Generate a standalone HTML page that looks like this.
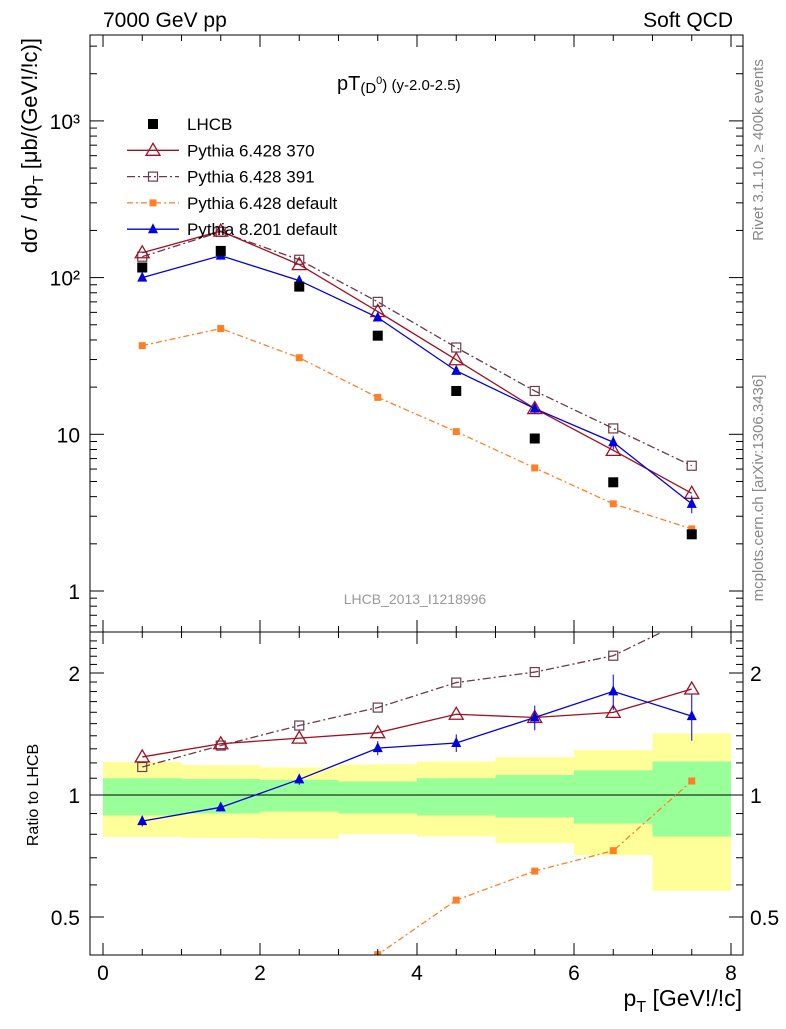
<!DOCTYPE html>
<html><head><meta charset="utf-8"><style>
body{margin:0;background:#fff;}
svg{font-family:"Liberation Sans",sans-serif;}
</style></head><body>
<svg id="c" width="786" height="1024" xmlns="http://www.w3.org/2000/svg"></svg>
<script>
const binCenters=[0.5,1.5,2.5,3.5,4.5,5.5,6.5,7.5];
const lhcb=[116,148,87.6,42.6,18.9,9.4,4.94,2.3];
const py370=[144,198,121,60.7,29.9,14.6,7.9,4.2];
const py391=[136,196,130,70,35.8,18.9,10.9,6.3];
const pydef=[36.8,47.3,30.8,17.2,10.4,6.1,3.6,2.49];
const py8=[100,138,95.7,55.6,25.4,14.6,8.9,3.6];
const py8err=[0.03,0.02,0.03,0.04,0.05,0.07,0.1,0.13];
const yelUp=[1.206,1.186,1.17,1.19,1.21,1.24,1.29,1.42];
const yelDn=[0.788,0.783,0.78,0.80,0.79,0.76,0.71,0.58];
const grnUp=[1.10,1.095,1.09,1.08,1.10,1.12,1.15,1.21];
const grnDn=[0.89,0.90,0.91,0.90,0.89,0.88,0.85,0.79];
const xTicks=[0,2,4,6,8];
const yTicksMain=[1,10,100,1000];
const yTickLabelsMain=["1","10","10²","10³"];
const ratioTicks=[0.5,1,2];

const S=document.getElementById('c'),NS="http://www.w3.org/2000/svg";
const X0=90,X1=743,MT=35,MB=632,RB=955;
const xs=v=>103+v*78.5;
const ym=v=>591-Math.log10(v)*156.7;
const yr=v=>795-Math.log2(v)*122;
function el(t,a,p){const e=document.createElementNS(NS,t);for(const k in a)e.setAttribute(k,a[k]);(p||S).appendChild(e);return e;}
function txt(s,a,p){const e=el('text',a,p);e.textContent=s;return e;}
const defs=el('defs',{});
const c1=el('clipPath',{id:'cm'},defs);el('rect',{x:X0,y:MT,width:X1-X0,height:MB-MT},c1);
const c2=el('clipPath',{id:'cr'},defs);el('rect',{x:X0,y:MB,width:X1-X0,height:RB-MB},c2);
const gm=el('g',{'clip-path':'url(#cm)'});
const gr=el('g',{'clip-path':'url(#cr)'});
for(let i=0;i<8;i++){
 const a=xs(i),b=xs(i+1);
 const r=el('rect',{x:a,y:yr(yelUp[i]),width:b-a,height:yr(yelDn[i])-yr(yelUp[i]),fill:'#ffff99'},gr);
 
 const g=el('rect',{x:a,y:yr(grnUp[i]),width:b-a,height:yr(grnDn[i])-yr(grnUp[i]),fill:'#99ff99'},gr);
 
}
el('line',{x1:X0,x2:X1,y1:yr(1),y2:yr(1),stroke:'#000','stroke-width':1},gr);
function marker(type,x,y,col,p){
 let m;
 if(type=='sq')m=el('rect',{x:x-5,y:y-5,width:10,height:10,fill:col},p);
 else if(type=='osq')m=el('rect',{x:x-4.5,y:y-4.5,width:9,height:9,fill:'none',stroke:col,'stroke-width':1.2},p);
 else if(type=='fsq')m=el('rect',{x:x-3.5,y:y-3.5,width:7,height:7,fill:col},p);
 else if(type=='otri')m=el('polygon',{points:`${x},${y-7} ${x-7},${y+5} ${x+7},${y+5}`,fill:'none',stroke:col,'stroke-width':1.3},p);
 else m=el('polygon',{points:`${x},${y-6} ${x-5},${y+4} ${x+5},${y+4}`,fill:col},p);
 
}
const series=[
 {d:py391,c:'#6b3a4b',dash:'8,3,2,3',m:'osq',n:'pythia-6428-391'},
 {d:pydef,c:'#ff7f27',dash:'6,3,2,3',m:'fsq',n:'pythia-6428-default'},
 {d:py370,c:'#a01020',dash:'',m:'otri',n:'pythia-6428-370'},
 {d:py8,c:'#0000e0',dash:'',m:'tri',n:'pythia-8201-default'}];
series.forEach(s=>{
 const pm=binCenters.map((x,i)=>xs(x)+','+ym(s.d[i])).join(' ');
 const l=el('polyline',{points:pm,fill:'none',stroke:s.c,'stroke-width':1.3,'stroke-dasharray':s.dash},gm);
 
 const pr=binCenters.map((x,i)=>xs(x)+','+yr(s.d[i]/lhcb[i])).join(' ');
 const l2=el('polyline',{points:pr,fill:'none',stroke:s.c,'stroke-width':1.3,'stroke-dasharray':s.dash},gr);
 
 binCenters.forEach((x,i)=>{
  if(s.m=='tri'){const e=py8err[i];
   el('line',{x1:xs(x),x2:xs(x),y1:ym(s.d[i]*(1+e)),y2:ym(s.d[i]*(1-e)),stroke:s.c},gm);
   el('line',{x1:xs(x),x2:xs(x),y1:yr(s.d[i]/lhcb[i]*(1+e)),y2:yr(s.d[i]/lhcb[i]*(1-e)),stroke:s.c},gr);}
  marker(s.m,xs(x),ym(s.d[i]),s.c,gm);marker(s.m,xs(x),yr(s.d[i]/lhcb[i]),s.c,gr);
 });
});
binCenters.forEach((x,i)=>marker('sq',xs(x),ym(lhcb[i]),'#000',gm));
el('rect',{x:X0,y:MT,width:X1-X0,height:MB-MT,fill:'none',stroke:'#000'});
el('rect',{x:X0,y:MB,width:X1-X0,height:RB-MB,fill:'none',stroke:'#000'});
for(let v=0;v<=8.01;v+=0.5){const big=Math.abs(v-Math.round(v/2)*2)<0.01,L=big?12:6;
 [MT,MB].forEach(t=>el('line',{x1:xs(v),x2:xs(v),y1:t,y2:t+L,stroke:'#000'}));
 [MB,RB].forEach(b=>el('line',{x1:xs(v),x2:xs(v),y1:b,y2:b-L,stroke:'#000'}));}
xTicks.forEach(v=>{const t=txt(String(v),{x:xs(v),y:980,'font-size':21,'text-anchor':'middle'});});
for(let d=-1;d<4;d++)for(let k=1;k<10;k++){const v=k*Math.pow(10,d),y=ym(v);if(y<MT||y>MB)continue;const L=k==1?14:7;
 el('line',{x1:X0,x2:X0+L,y1:y,y2:y,stroke:'#000'});el('line',{x1:X1,x2:X1-L,y1:y,y2:y,stroke:'#000'});}
yTicksMain.forEach((v,i)=>{const t=txt(yTickLabelsMain[i],{x:80,y:ym(v)+8,'font-size':21,'text-anchor':'end'});});
for(let v=0.4;v<=2.5;v+=0.1){const y=yr(v);if(y<MB||y>RB)continue;const big=ratioTicks.some(r=>Math.abs(r-v)<0.01),L=big?14:7;
 el('line',{x1:X0,x2:X0+L,y1:y,y2:y,stroke:'#000'});el('line',{x1:X1,x2:X1-L,y1:y,y2:y,stroke:'#000'});}
ratioTicks.forEach(v=>{const a=txt(String(v),{x:80,y:yr(v)+8,'font-size':21,'text-anchor':'end'});
 const b=txt(String(v),{x:750,y:yr(v)+8,'font-size':21});});
function lab(s,a,n){const t=txt(s,a);return t;}
lab('7000 GeV pp',{x:103,y:27,'font-size':21},'energy-label');
lab('Soft QCD',{x:733,y:27,'font-size':21,'text-anchor':'end'},'process-label');
const tt=lab('',{x:337,y:90,'font-size':20},'plot-title');
tt.innerHTML='pT<tspan font-size="15" dy="3">(D</tspan><tspan font-size="11" dy="-9">0</tspan><tspan font-size="15" dy="6">) (y-2.0-2.5)</tspan>';
lab('LHCB_2013_I1218996',{x:415,y:604,'font-size':14,fill:'#999','text-anchor':'middle'},'analysis-id');
const xt=lab('',{x:742,y:1006,'font-size':23,'text-anchor':'end'},'x-axis-title');
xt.innerHTML='p<tspan font-size="16" dy="6">T</tspan><tspan dy="-6"> [GeV!/!c]</tspan>';
const yt=lab('',{transform:'translate(37,38) rotate(-90)','font-size':22,'text-anchor':'end'},'y-axis-title');
yt.innerHTML='dσ / dp<tspan font-size="15" dy="6">T</tspan><tspan dy="-6"> [μb/(GeV!/!c)]</tspan>';
lab('Ratio to LHCB',{transform:'translate(38,795) rotate(-90)','font-size':16,'text-anchor':'middle'},'ratio-axis-title');
lab('Rivet 3.1.10, ≥ 400k events',{transform:'translate(763,150) rotate(-90)','font-size':15,fill:'#888','text-anchor':'middle'},'rivet-label');
lab('mcplots.cern.ch [arXiv:1306.3436]',{transform:'translate(763,488) rotate(-90)','font-size':15,fill:'#888','text-anchor':'middle'},'mcplots-label');
const lg=el('g',{});
const leg=[{t:'LHCB',m:'sq',c:'#000',d:null},{t:'Pythia 6.428 370',m:'otri',c:'#a01020',d:''},{t:'Pythia 6.428 391',m:'osq',c:'#6b3a4b',d:'8,3,2,3'},{t:'Pythia 6.428 default',m:'fsq',c:'#ff7f27',d:'6,3,2,3'},{t:'Pythia 8.201 default',m:'tri',c:'#0000e0',d:''}];
leg.forEach((e,i)=>{const y=124+i*26.3;
 if(e.d!==null)el('line',{x1:127,x2:179,y1:y,y2:y,stroke:e.c,'stroke-width':1.3,'stroke-dasharray':e.d},lg);
 marker(e.m,153,y,e.c,lg);
 const t=txt(e.t,{x:187,y:y+6,'font-size':17},lg);});
</script>
</body></html>
